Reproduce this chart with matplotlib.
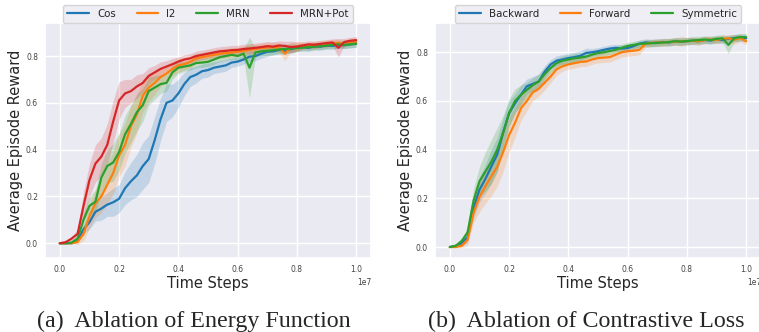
import numpy as np
import matplotlib
matplotlib.use("Agg")
import matplotlib.pyplot as plt
import seaborn as sns

# ---------------- data ----------------
steps = np.arange(51) * 0.02e7  # time steps 0 .. 1e7

# (a) Ablation of energy function
cos_mean = [0.0, 0.0, 0.0, 0.01, 0.06, 0.09, 0.134, 0.148, 0.165, 0.175,
            0.19, 0.235, 0.265, 0.29, 0.33, 0.36, 0.44, 0.53, 0.60, 0.61,
            0.64, 0.68, 0.71, 0.72, 0.735, 0.74, 0.75, 0.755, 0.76, 0.772,
            0.776, 0.785, 0.797, 0.80, 0.81, 0.818, 0.82, 0.826, 0.822, 0.83,
            0.836, 0.838, 0.835, 0.842, 0.84, 0.845, 0.843, 0.848, 0.846, 0.85,
            0.852]
cos_err = [0, 0, 0, 0.005, 0.02, 0.03, 0.04, 0.05, 0.05, 0.06,
           0.06, 0.07, 0.08, 0.09, 0.10, 0.10, 0.10, 0.09, 0.08, 0.07,
           0.06, 0.05, 0.04, 0.035, 0.03, 0.03, 0.025, 0.025, 0.025, 0.02,
           0.02, 0.02, 0.02, 0.02, 0.02, 0.02, 0.015, 0.015, 0.015, 0.015,
           0.015, 0.015, 0.015, 0.015, 0.015, 0.015, 0.015, 0.015, 0.015, 0.015,
           0.015]

l2_mean = [0.0, 0.0, 0.0, 0.005, 0.04, 0.115, 0.17, 0.20, 0.25, 0.30,
           0.375, 0.42, 0.50, 0.55, 0.63, 0.665, 0.685, 0.71, 0.725, 0.745,
           0.76, 0.765, 0.775, 0.79, 0.795, 0.80, 0.805, 0.81, 0.812, 0.815,
           0.818, 0.822, 0.826, 0.83, 0.834, 0.836, 0.838, 0.835, 0.81, 0.838,
           0.84, 0.845, 0.843, 0.848, 0.85, 0.852, 0.855, 0.856, 0.852, 0.86,
           0.862]
l2_err = [0, 0, 0, 0.01, 0.03, 0.05, 0.06, 0.07, 0.08, 0.09,
          0.09, 0.09, 0.09, 0.08, 0.07, 0.06, 0.05, 0.04, 0.035, 0.03,
          0.03, 0.025, 0.025, 0.02, 0.02, 0.02, 0.02, 0.02, 0.02, 0.02,
          0.02, 0.02, 0.02, 0.02, 0.02, 0.02, 0.02, 0.02, 0.03, 0.02,
          0.02, 0.015, 0.015, 0.015, 0.015, 0.015, 0.015, 0.015, 0.015, 0.015,
          0.015]

mrn_mean = [0.0, 0.0, 0.003, 0.02, 0.10, 0.16, 0.177, 0.28, 0.33, 0.345,
            0.39, 0.465, 0.51, 0.56, 0.59, 0.65, 0.665, 0.68, 0.685, 0.73,
            0.75, 0.755, 0.76, 0.77, 0.772, 0.775, 0.785, 0.795, 0.80, 0.805,
            0.80, 0.81, 0.75, 0.815, 0.82, 0.822, 0.825, 0.828, 0.83, 0.832,
            0.834, 0.836, 0.838, 0.84, 0.842, 0.845, 0.847, 0.85, 0.848, 0.85,
            0.853]
mrn_err = [0, 0, 0.005, 0.01, 0.03, 0.04, 0.05, 0.06, 0.07, 0.08,
           0.08, 0.08, 0.08, 0.08, 0.07, 0.06, 0.05, 0.04, 0.035, 0.03,
           0.025, 0.02, 0.02, 0.02, 0.02, 0.02, 0.02, 0.02, 0.02, 0.02,
           0.02, 0.02, 0.13, 0.02, 0.02, 0.02, 0.02, 0.02, 0.02, 0.02,
           0.015, 0.015, 0.015, 0.015, 0.015, 0.015, 0.015, 0.015, 0.015, 0.015,
           0.015]

pot_mean = [0.0, 0.005, 0.02, 0.04, 0.16, 0.27, 0.34, 0.37, 0.42, 0.52,
            0.61, 0.64, 0.65, 0.67, 0.685, 0.715, 0.73, 0.745, 0.755, 0.765,
            0.776, 0.785, 0.79, 0.80, 0.805, 0.81, 0.815, 0.82, 0.822, 0.825,
            0.826, 0.83, 0.832, 0.835, 0.838, 0.842, 0.84, 0.845, 0.843, 0.838,
            0.84, 0.845, 0.85, 0.848, 0.852, 0.855, 0.858, 0.835, 0.86, 0.865,
            0.868]
pot_err = [0, 0.005, 0.01, 0.02, 0.06, 0.07, 0.08, 0.08, 0.09, 0.09,
           0.08, 0.06, 0.05, 0.05, 0.04, 0.035, 0.03, 0.03, 0.025, 0.025,
           0.02, 0.02, 0.02, 0.02, 0.02, 0.02, 0.02, 0.02, 0.02, 0.02,
           0.02, 0.02, 0.02, 0.02, 0.02, 0.02, 0.02, 0.02, 0.02, 0.025,
           0.02, 0.015, 0.015, 0.015, 0.015, 0.015, 0.015, 0.04, 0.015, 0.015,
           0.015]

# (b) Ablation of contrastive loss
bwd_mean = [0.0, 0.005, 0.015, 0.04, 0.16, 0.235, 0.28, 0.33, 0.38, 0.47,
            0.55, 0.59, 0.625, 0.66, 0.67, 0.68, 0.72, 0.75, 0.765, 0.77,
            0.776, 0.78, 0.785, 0.797, 0.80, 0.804, 0.81, 0.815, 0.818, 0.815,
            0.817, 0.825, 0.835, 0.84, 0.838, 0.84, 0.842, 0.84, 0.845, 0.843,
            0.845, 0.847, 0.845, 0.85, 0.848, 0.852, 0.85, 0.855, 0.858, 0.86,
            0.858]
bwd_err = [0, 0.005, 0.01, 0.02, 0.04, 0.05, 0.06, 0.07, 0.07, 0.06,
           0.05, 0.04, 0.04, 0.03, 0.03, 0.03, 0.025, 0.02, 0.02, 0.02,
           0.02, 0.02, 0.02, 0.02, 0.015, 0.015, 0.015, 0.015, 0.015, 0.015,
           0.015, 0.015, 0.015, 0.015, 0.015, 0.015, 0.015, 0.015, 0.015, 0.015,
           0.015, 0.015, 0.015, 0.015, 0.015, 0.015, 0.015, 0.015, 0.015, 0.015,
           0.015]

fwd_mean = [0.0, 0.0, 0.005, 0.03, 0.14, 0.205, 0.25, 0.29, 0.33, 0.39,
            0.46, 0.51, 0.57, 0.60, 0.635, 0.65, 0.675, 0.70, 0.73, 0.742,
            0.75, 0.755, 0.76, 0.762, 0.77, 0.776, 0.778, 0.78, 0.79, 0.80,
            0.804, 0.806, 0.81, 0.834, 0.838, 0.84, 0.84, 0.842, 0.843, 0.845,
            0.845, 0.847, 0.845, 0.85, 0.852, 0.85, 0.855, 0.857, 0.852, 0.858,
            0.845]
fwd_err = [0, 0.003, 0.008, 0.02, 0.04, 0.06, 0.07, 0.08, 0.08, 0.08,
           0.07, 0.06, 0.05, 0.04, 0.035, 0.03, 0.03, 0.025, 0.025, 0.02,
           0.02, 0.02, 0.02, 0.02, 0.02, 0.02, 0.02, 0.02, 0.02, 0.02,
           0.02, 0.02, 0.02, 0.015, 0.015, 0.015, 0.015, 0.015, 0.015, 0.02,
           0.015, 0.015, 0.015, 0.015, 0.015, 0.015, 0.015, 0.015, 0.02, 0.015,
           0.015]

sym_mean = [0.0, 0.005, 0.025, 0.06, 0.19, 0.27, 0.31, 0.35, 0.40, 0.47,
            0.55, 0.60, 0.625, 0.645, 0.665, 0.68, 0.71, 0.735, 0.755, 0.765,
            0.77, 0.775, 0.778, 0.782, 0.79, 0.797, 0.80, 0.805, 0.81, 0.818,
            0.826, 0.83, 0.834, 0.836, 0.837, 0.838, 0.84, 0.842, 0.845, 0.844,
            0.846, 0.848, 0.85, 0.852, 0.85, 0.855, 0.857, 0.83, 0.858, 0.862,
            0.862]
sym_err = [0, 0.005, 0.01, 0.02, 0.05, 0.06, 0.08, 0.09, 0.09, 0.07,
           0.06, 0.05, 0.04, 0.03, 0.03, 0.03, 0.025, 0.02, 0.02, 0.02,
           0.02, 0.02, 0.02, 0.02, 0.015, 0.015, 0.015, 0.015, 0.015, 0.015,
           0.015, 0.015, 0.015, 0.015, 0.015, 0.015, 0.015, 0.015, 0.015, 0.015,
           0.015, 0.015, 0.015, 0.015, 0.015, 0.015, 0.015, 0.035, 0.015, 0.015,
           0.015]

panel_a = [("Cos", cos_mean, cos_err), ("l2", l2_mean, l2_err),
           ("MRN", mrn_mean, mrn_err), ("MRN+Pot", pot_mean, pot_err)]
panel_b = [("Backward", bwd_mean, bwd_err), ("Forward", fwd_mean, fwd_err),
           ("Symmetric", sym_mean, sym_err)]
captions = ["(a)  Ablation of Energy Function", "(b)  Ablation of Contrastive Loss"]
colors = ["#1f77b4", "#ff7f0e", "#2ca02c", "#d62728"]

# ---------------- plot ----------------
sns.set_theme(style="darkgrid")
plt.rcParams['font.family'] = ['DejaVu Sans']

W, H = 759, 332
fig = plt.figure(figsize=(W / 100, H / 100), dpi=100)

ax_a = fig.add_axes([45 / W, 1 - 258 / H, 326 / W, 235 / H])
ax_b = fig.add_axes([435 / W, 1 - 258 / H, 326 / W, 235 / H])

for ax, panel, ylim, cap, capx in [
        (ax_a, panel_a, (-0.063, 0.941), captions[0], 194 / W),
        (ax_b, panel_b, (-0.045, 0.92), captions[1], 586 / W)]:
    for (name, m, e), c in zip(panel, colors):
        m = np.asarray(m)
        e = np.asarray(e)
        ax.fill_between(steps, m - e, m + e, color=c, alpha=0.2, linewidth=0)
        ax.plot(steps, m, color=c, lw=1.6, label=name)
    ax.set_xlim(-0.05e7, 1.05e7)
    ax.set_ylim(*ylim)
    ax.set_xticks(np.arange(0, 1.01e7, 0.2e7))
    ax.set_yticks([0.0, 0.2, 0.4, 0.6, 0.8])
    ax.tick_params(labelsize=5.5, length=0, pad=5, colors="#444444")
    ax.xaxis.get_offset_text().set_fontsize(5.5)
    ax.xaxis.get_offset_text().set_color("#444444")
    ax.set_xlabel("Time Steps", fontsize=10.5, labelpad=1.5)
    ax.set_ylabel("Average Episode Reward", fontsize=10.5, labelpad=2)
    leg = ax.legend(loc="lower center", bbox_to_anchor=(0.5, 1.0),
                    ncol=len(panel), fontsize=7.4, frameon=True,
                    borderaxespad=0, columnspacing=2.0, handlelength=2.1)
    fig.text(capx, 1 - 321 / H, cap, ha="center", va="center",
             fontsize=17.3, family="Liberation Serif")

fig.savefig("out.png", dpi=100)
